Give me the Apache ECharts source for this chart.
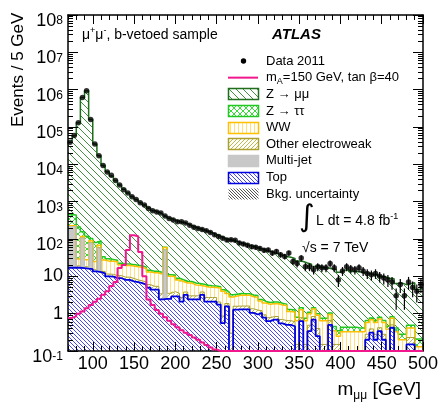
<!DOCTYPE html>
<html>
<head>
<meta charset="utf-8">
<script src="https://cdn.jsdelivr.net/npm/echarts@6/dist/echarts.min.js"></script>
<style>
html, body { margin: 0; padding: 0; background: #fff; }
#chart { width: 442px; height: 408px; }
</style>
</head>
<body>
<div id="chart"></div>
<script>
// bin low edges, 5 GeV bins up to 500 GeV
var binLow = [70, 75, 80, 85, 90, 95, 100, 105, 110, 115,
    120, 125, 130, 135, 140, 145, 150, 155, 160, 165,
    170, 175, 180, 185, 190, 195, 200, 205, 210, 215,
    220, 225, 230, 235, 240, 245, 250, 255, 260, 265,
    270, 275, 280, 285, 290, 295, 300, 305, 310, 315,
    320, 325, 330, 335, 340, 345, 350, 355, 360, 365,
    370, 375, 380, 385, 390, 395, 400, 405, 410, 415,
    420, 425, 430, 435, 440, 445, 450, 455, 460, 465,
    470, 475, 480, 485, 490, 495];
var binEnd = 500;

var topQuark = [17, 17, 17, 16.6, 16, 15.5, 13.5, 13, 12, 10,
    9.8, 9, 8.9, 8, 8, 7.3, 7, 6.6, 6, 5,
    4.4, 4.4, 2.4, 2.5, 2.5, 2.9, 2.9, 2.1, 3.2, 2.4,
    2.4, 2.4, 3.2, 2.1, 2.1, 2.1, 1.75, 0.56, 1.57, 0,
    1.28, 1.3, 1.3, 1.3, 1.05, 0.95, 1.05, 0.78, 0.63, 0.69,
    0.69, 0.55, 0.5, 0.5, 0.46, 0, 0.63, 0, 0.34, 0.69,
    0.25, 0, 0, 0.5, 0, 0, 0, 0, 0, 0,
    0, 0, 0.2, 0.31, 0.2, 0.34, 0.2, 0, 0.42, 0,
    0, 0, 0.15, 0.15, 0, 0];
var multiJet = [198, 198, 0, 88, 0, 62, 0, 44, 0, 0,
    0, 0, 0, 0, 0, 0, 0, 0, 0, 0,
    0, 0, 0, 48, 0, 0, 0, 0, 0, 0,
    0, 0, 0, 0, 0, 0, 0, 0, 0, 0,
    0, 0, 0, 0, 0, 0, 0, 0, 0, 0,
    0, 0, 0, 0, 0, 0, 0, 0, 0, 0,
    0, 0, 0, 0, 0, 0, 0, 0, 0, 0,
    0, 0, 0, 0, 0, 0, 0, 0, 0, 0,
    0, 0, 0, 0, 0, 0];
var otherEW = [2, 2, 2, 2, 2, 2, 1.5, 1.5, 1.5, 1.5,
    1.5, 1.5, 1.5, 1.5, 1.5, 1.5, 1, 1, 1, 1,
    1, 1, 1, 1, 1, 1, 0.6, 0.6, 0.6, 0.6,
    0.6, 0.6, 0.6, 0.6, 0.6, 0.6, 0.3, 0.3, 0.3, 0.3,
    0.3, 0.3, 0.3, 0.3, 0.3, 0.3, 0.15, 0.15, 0.15, 0.15,
    0.15, 0.15, 0.15, 0.15, 0.15, 0.15, 0.15, 0.15, 0.15, 0.15,
    0.15, 0.15, 0.15, 0.15, 0.15, 0.15, 0.08, 0.08, 0.08, 0.08,
    0.08, 0.08, 0.08, 0.08, 0.08, 0.08, 0.08, 0.08, 0.08, 0.08,
    0.08, 0.08, 0.08, 0.08, 0.08, 0.08];
var diboson = [10, 10, 10, 10, 10, 10, 10, 10, 14, 14,
    14, 14, 10, 10, 10, 10, 10, 10, 9, 7,
    7, 7, 8, 7.5, 6.5, 6, 4.5, 4.6, 2.8, 3.6,
    2.9, 2.8, 1.7, 2.5, 2.4, 2.3, 2.85, 3.1, 1.6, 2.5,
    1.4, 1.5, 1.5, 1.5, 1.5, 1.5, 1, 1, 1, 1,
    1, 1, 1, 0.5, 0.5, 0.5, 0.5, 0.5, 0.5, 0.5,
    0.5, 0.5, 0.5, 0.3, 0.2, 0.1, 0.25, 0.25, 0.25, 0.25,
    0.25, 0.25, 0.3, 0.3, 0.3, 0.3, 0.3, 0.3, 0.25, 0.25,
    0.12, 0.12, 0.18, 0.18, 0.05, 0.05];
var zTauTau = [220, 215, 180, 40, 90, 14, 56, 21, 6, 4,
    3, 2.5, 2, 2, 2, 1.8, 1.8, 1.6, 1.5, 1.5,
    1.3, 1.2, 1.2, 1.1, 1, 1, 0.9, 0.8, 0.8, 0.7,
    0.7, 0.6, 0.6, 0.6, 0.5, 0.5, 0.4, 0.4, 0.4, 0.4,
    0.35, 0.35, 0.3, 0.3, 0.3, 0.3, 0.2, 0.2, 0.2, 0.2,
    0.2, 0.2, 0.15, 0.15, 0.15, 0.15, 0.15, 0.1, 0.1, 0.1,
    0.1, 0.1, 0.1, 0.1, 0.1, 0.1, 0.1, 0.1, 0.1, 0.1,
    0.08, 0.08, 0.08, 0.08, 0.08, 0.08, 0.08, 0.08, 0.08, 0.08,
    0.08, 0.08, 0.08, 0.08, 0.08, 0.08];
var zMuMu = [38550, 57560, 129790, 619840, 929880, 159900, 34920, 16910, 9267, 6270,
    4872, 3673, 2778, 2128, 1678, 1359, 1130, 931, 792, 665,
    566, 506, 457, 350, 349, 314, 286, 267, 248, 225,
    203, 185, 170, 156, 142, 126, 113, 102, 93, 89,
    83, 75, 70, 64, 60, 55, 52, 48, 45, 41,
    38, 35, 32, 31, 29, 25, 23.5, 22, 20, 17,
    19, 16.6, 16, 15, 15, 12.5, 14, 15, 13, 13,
    12.6, 12, 11.4, 10.3, 10.8, 9.2, 8.9, 8.4, 7.8, 6,
    6.3, 5.7, 5.8, 6.2, 4.2, 4.7];
var data2011 = [39000, 59000, 130000, 620000, 930000, 160000, 35000, 17000, 9300, 6200,
    5100, 3700, 2800, 2100, 1700, 1350, 1150, 940, 815, 660,
    570, 530, 500, 410, 355, 325, 290, 290, 270, 235,
    205, 190, 180, 166, 150, 130, 116, 105, 94, 95,
    92, 78, 74, 68, 62, 60, 56, 50, 51, 42,
    46, 38, 34, 42, 25, 22, 31, 18, 18, 15,
    18, 17, 17, 22, 17, 8, 14, 18, 16, 15,
    17, 14, 12, 11, 12, 10, 9, 8, 7, 3,
    6, 3, 7, 5, 4, 6];
var signal = [0.77, 0.85, 1.0, 1.15, 1.4, 1.7, 2.1, 2.5, 3.2, 4.0,
    5.5, 7.0, 16.6, 20, 51, 126, 118, 45, 10, 2.4,
    1.7, 1.25, 1.0, 0.8, 0.65, 0.52, 0.43, 0.36, 0.31, 0.27,
    0.23, 0.2, 0.17, 0.145, 0.125, 0.11, 0.1, 0.1, 0.1, 0.1,
    0.1, 0.1, 0.1, 0.1, 0.1, 0.1, 0.1, 0.1, 0.1, 0.1,
    0.1, 0.1, 0.1, 0.1, 0.1, 0.1, 0.1, 0.1, 0.1, 0.1,
    0.1, 0.1, 0.1, 0.1, 0.1, 0.1, 0.1, 0.1, 0.1, 0.1,
    0.1, 0.1, 0.1, 0.1, 0.1, 0.1, 0.1, 0.1, 0.1, 0.1,
    0.1, 0.1, 0.1, 0.1, 0.1, 0.1];

var xMajor = [100, 150, 200, 250, 300, 350, 400, 450, 500];
var xMinor = [70, 80, 90, 110, 120, 130, 140, 160, 170, 180, 190, 210, 220, 230, 240,
    260, 270, 280, 290, 310, 320, 330, 340, 360, 370, 380, 390, 410, 420, 430, 440,
    460, 470, 480, 490];

var FONT = 'Liberation Sans, Arial, Helvetica, sans-serif';
var PINK = '#f0188c';
var Y_FLOOR = 0.1;

// hatch patterns drawn on small canvases
function hatch(bg, fg, size, kind, lw) {
    var c = document.createElement('canvas');
    c.width = size;
    c.height = size;
    var ctx = c.getContext('2d');
    ctx.fillStyle = bg;
    ctx.fillRect(0, 0, size, size);
    ctx.strokeStyle = fg;
    ctx.lineWidth = lw || 1;
    ctx.beginPath();
    var k;
    if (kind === 'back' || kind === 'cross') {
        for (k = -1; k <= 1; k++) { ctx.moveTo(k * size, 0); ctx.lineTo(k * size + size, size); }
    }
    if (kind === 'fwd' || kind === 'cross') {
        for (k = -1; k <= 1; k++) { ctx.moveTo(k * size, size); ctx.lineTo(k * size + size, 0); }
    }
    if (kind === 'vert') {
        ctx.moveTo(Math.floor(size / 2) + 0.5, 0);
        ctx.lineTo(Math.floor(size / 2) + 0.5, size);
    }
    ctx.stroke();
    return {image: c, repeat: 'repeat'};
}

var pZmm = hatch('#fff', '#3f903f', 7, 'back', 1);
var pZtt = hatch('#fff', '#3ad83a', 6, 'cross', 1);
var pWW = hatch('#fff', '#ffe07a', 4, 'vert', 1);
var pOEW = hatch('#fff', '#c2b845', 4, 'fwd', 1);
var pTop = hatch('#fff', '#4a4af5', 4, 'back', 1);
var pUnc = hatch('#fff', '#555', 3, 'back', 1);

function addArr(a, b) {
    return a.map(function (v, i) { return v + b[i]; });
}
var cTop = topQuark;
var cMj = addArr(cTop, multiJet);
var cOew = addArr(cMj, otherEW);
var cWW = addArr(cOew, diboson);
var cZtt = addArr(cWW, zTauTau);
var cZmm = addArr(cZtt, zMuMu);

function stepData(vals) {
    var out = [];
    for (var i = 0; i < binLow.length; i++) {
        out.push([binLow[i], Math.max(vals[i], 1e-3)]);
    }
    out.push([binEnd, Math.max(vals[vals.length - 1], 1e-3)]);
    return out;
}

// filled bins (custom rects down to the axis floor)
function fillSeries(name, vals, fill) {
    var items = binLow.map(function (b, i) { return [b, b + 5, vals[i]]; });
    return {
        name: name + ' fill',
        type: 'custom',
        data: items,
        silent: true,
        clip: true,
        z: 2,
        encode: {x: [0, 1], y: 2},
        renderItem: function (params, api) {
            var v = api.value(2);
            if (!(v > Y_FLOOR)) return null;
            var p1 = api.coord([api.value(0), v]);
            var p2 = api.coord([api.value(1), Y_FLOOR]);
            var x1 = Math.round(p1[0]), x2 = Math.round(p2[0]);
            return {
                type: 'rect',
                shape: {x: x1, y: p1[1], width: x2 - x1, height: p2[1] - p1[1]},
                style: {fill: fill}
            };
        }
    };
}

// step outline of a histogram
function lineSeries(name, vals, color, lw, z) {
    return {
        name: name,
        type: 'line',
        step: 'end',
        data: stepData(vals),
        symbol: 'none',
        silent: true,
        clip: true,
        z: z || 3,
        itemStyle: {color: color},
        lineStyle: {color: color, width: lw}
    };
}

var dataPts = binLow.map(function (b, i) { return [b + 2.5, data2011[i]]; });

var yMinorVals = [];
for (var d = -1; d < 8; d++) {
    for (var k = 2; k <= 9; k++) yMinorVals.push(d + Math.log10(k));
}

function yLabel(v) {
    if (v === 0) return '{p|1}';
    if (v === 1) return '{p|10}';
    return '{b|10}{s|' + v + '}';
}
var yRich = {
    p: {fontSize: 18, fontFamily: FONT, color: '#000', lineHeight: 20},
    b: {fontSize: 18, fontFamily: FONT, color: '#000', lineHeight: 20, padding: [12, 0, 0, 0]},
    s: {fontSize: 12, fontFamily: FONT, color: '#000', lineHeight: 12, verticalAlign: 'top', padding: [10, 0, 0, 0]}
};

function xAxisDef(pos, ticks, len, withLine, withLabel) {
    return {
        type: 'value', min: 70, max: 500, position: pos, z: 5,
        axisLine: {show: withLine, onZero: false, lineStyle: {color: '#000', width: 1.5}},
        axisTick: {show: true, inside: true, length: len, customValues: ticks, lineStyle: {color: '#000', width: 1}},
        axisLabel: withLabel ? {show: true, customValues: xMajor, fontSize: 18, fontFamily: FONT, color: '#000', margin: 4} : {show: false},
        splitLine: {show: false}
    };
}
function yAxisDef(pos, ticks, len, withLine, withLabel) {
    var ax = {
        type: 'value', min: -1, max: 8, interval: 1, position: pos, z: 5,
        axisLine: {show: withLine, onZero: false, lineStyle: {color: '#000', width: 1.5}},
        axisTick: {show: true, inside: true, length: len, lineStyle: {color: '#000', width: 1}},
        axisLabel: withLabel ? {show: true, formatter: yLabel, rich: yRich, margin: 5} : {show: false},
        splitLine: {show: false}
    };
    if (ticks) ax.axisTick.customValues = ticks;
    return ax;
}

var legendRows = [
    {kind: 'dot', label: 'Data 2011'},
    {kind: 'line', label: '{n|m}{sub|A}{n|=150 GeV, tan \u03b2=40}'},
    {kind: 'box', fill: pZmm, stroke: '#1e6e1e', label: 'Z \u2192 \u03bc\u03bc'},
    {kind: 'box', fill: pZtt, stroke: '#22c822', label: 'Z \u2192 \u03c4\u03c4'},
    {kind: 'box', fill: pWW, stroke: '#ffc000', label: 'WW'},
    {kind: 'box', fill: pOEW, stroke: '#aaa030', label: 'Other electroweak'},
    {kind: 'box', fill: '#c8c8c8', stroke: '#c8c8c8', label: 'Multi-jet'},
    {kind: 'box', fill: pTop, stroke: '#0000e0', label: 'Top'},
    {kind: 'box', fill: pUnc, stroke: null, label: 'Bkg. uncertainty'}
];
var graphics = [];
legendRows.forEach(function (r, i) {
    var cy = 61 + 16.65 * i;
    if (r.kind === 'dot') {
        graphics.push({type: 'circle', shape: {cx: 243.5, cy: cy, r: 2.7}, style: {fill: '#000'}, z: 100});
    } else if (r.kind === 'line') {
        graphics.push({type: 'line', shape: {x1: 228, y1: cy, x2: 258, y2: cy}, style: {stroke: PINK, lineWidth: 2}, z: 100});
    } else {
        graphics.push({
            type: 'rect', shape: {x: 228.5, y: Math.round(cy - 6) + 0.5, width: 30, height: 11},
            style: {fill: r.fill, stroke: r.stroke, lineWidth: r.stroke ? 1.5 : 0}, z: 100
        });
    }
    graphics.push({
        type: 'text', x: 266, y: cy, z: 100,
        style: {
            text: r.label, fill: '#000', font: '13px ' + FONT, textVerticalAlign: 'middle',
            rich: {
                n: {fontSize: 13, fontFamily: FONT, lineHeight: 16},
                sub: {fontSize: 9, fontFamily: FONT, lineHeight: 9, verticalAlign: 'bottom'}
            }
        }
    });
});

graphics.push({
    type: 'text', x: 82, y: 35, z: 100,
    style: {
        text: '{n|\u03bc}{s|+}{n|\u03bc}{s|-}{n|, b-vetoed sample}', textVerticalAlign: 'middle',
        rich: {
            n: {fontSize: 14, fontFamily: FONT, color: '#000', lineHeight: 18},
            s: {fontSize: 9, fontFamily: FONT, color: '#000', lineHeight: 9, verticalAlign: 'top'}
        }
    }
});
graphics.push({
    type: 'text', x: 272, y: 35, z: 100,
    style: {text: 'ATLAS', font: 'italic bold 15px ' + FONT, fill: '#000', textVerticalAlign: 'middle'}
});
graphics.push({
    type: 'text', x: 299, y: 218, z: 100,
    style: {text: '\u222b', font: '30px DejaVu Sans, ' + FONT, fill: '#000', textVerticalAlign: 'middle'}
});
graphics.push({
    type: 'text', x: 316, y: 221, z: 100,
    style: {
        text: '{n|L dt = 4.8 fb}{s|-1}', textVerticalAlign: 'middle',
        rich: {
            n: {fontSize: 14, fontFamily: FONT, color: '#000', lineHeight: 18},
            s: {fontSize: 9, fontFamily: FONT, color: '#000', lineHeight: 9, verticalAlign: 'top'}
        }
    }
});
graphics.push({
    type: 'text', x: 302, y: 248, z: 100,
    style: {text: '\u221as = 7 TeV', font: '14px ' + FONT, fill: '#000', textVerticalAlign: 'middle'}
});
graphics.push({
    type: 'text', x: 18, y: 127, rotation: Math.PI / 2, z: 100,
    style: {text: 'Events / 5 GeV', font: '17px ' + FONT, fill: '#000', textAlign: 'left', textVerticalAlign: 'middle'}
});
graphics.push({
    type: 'text', x: 421, y: 390, z: 100,
    style: {
        text: '{n|m}{sub|\u03bc\u03bc}{n| [GeV]}', textAlign: 'right', textVerticalAlign: 'middle',
        rich: {
            n: {fontSize: 19, fontFamily: FONT, color: '#000', lineHeight: 24},
            sub: {fontSize: 12, fontFamily: FONT, color: '#000', lineHeight: 12, verticalAlign: 'bottom'}
        }
    }
});

var chart = echarts.init(document.getElementById('chart'), null, {renderer: 'canvas'});
var option = {
    animation: false,
    backgroundColor: '#fff',
    grid: {left: 68, right: 19, top: 14, bottom: 57},
    xAxis: [
        xAxisDef('bottom', xMajor, 9, true, true),
        xAxisDef('bottom', xMinor, 5, false, false),
        xAxisDef('top', xMajor, 9, true, false),
        xAxisDef('top', xMinor, 5, false, false)
    ],
    yAxis: [
        {type: 'log', logBase: 10, min: 0.1, max: 1e8, position: 'left', show: false},
        yAxisDef('left', null, 10, true, true),
        yAxisDef('left', yMinorVals, 5, false, false),
        yAxisDef('right', null, 10, true, false),
        yAxisDef('right', yMinorVals, 5, false, false)
    ],
    series: [
        fillSeries('Z->mumu', cZmm, pZmm),
        fillSeries('Z->tautau', cZtt, pZtt),
        fillSeries('WW', cWW, pWW),
        fillSeries('Other electroweak', cOew, pOEW),
        fillSeries('Multi-jet', cMj, '#c8c8c8'),
        fillSeries('Top', cTop, pTop),
        lineSeries('Z->mumu', cZmm, '#1e6e1e', 1.5),
        lineSeries('Z->tautau', cZtt, '#22c822', 1.5),
        lineSeries('WW', cWW, '#ffc000', 1.5),
        lineSeries('Other electroweak', cOew, '#aaa030', 1),
        lineSeries('Multi-jet', cMj, '#c0c0c0', 1),
        lineSeries('Top', cTop, '#0000e0', 1.8),
        lineSeries('signal', signal, PINK, 2, 6),
        {
            name: 'errors', type: 'custom', data: dataPts, z: 7, silent: true,
            renderItem: function (params, api) {
                var x = api.value(0), y = api.value(1), e = Math.sqrt(y);
                var p1 = api.coord([x, y + e]);
                var p2 = api.coord([x, Math.max(y - e, 0.11)]);
                return {type: 'line', shape: {x1: p1[0], y1: p1[1], x2: p2[0], y2: p2[1]}, style: {stroke: '#000', lineWidth: 1.2}};
            }
        },
        {
            name: 'Data 2011', type: 'scatter', data: dataPts, z: 8, silent: true,
            symbol: 'circle', symbolSize: 5.5, itemStyle: {color: '#000'}
        }
    ],
    graphic: graphics
};
chart.setOption(option);
</script>
</body>
</html>
